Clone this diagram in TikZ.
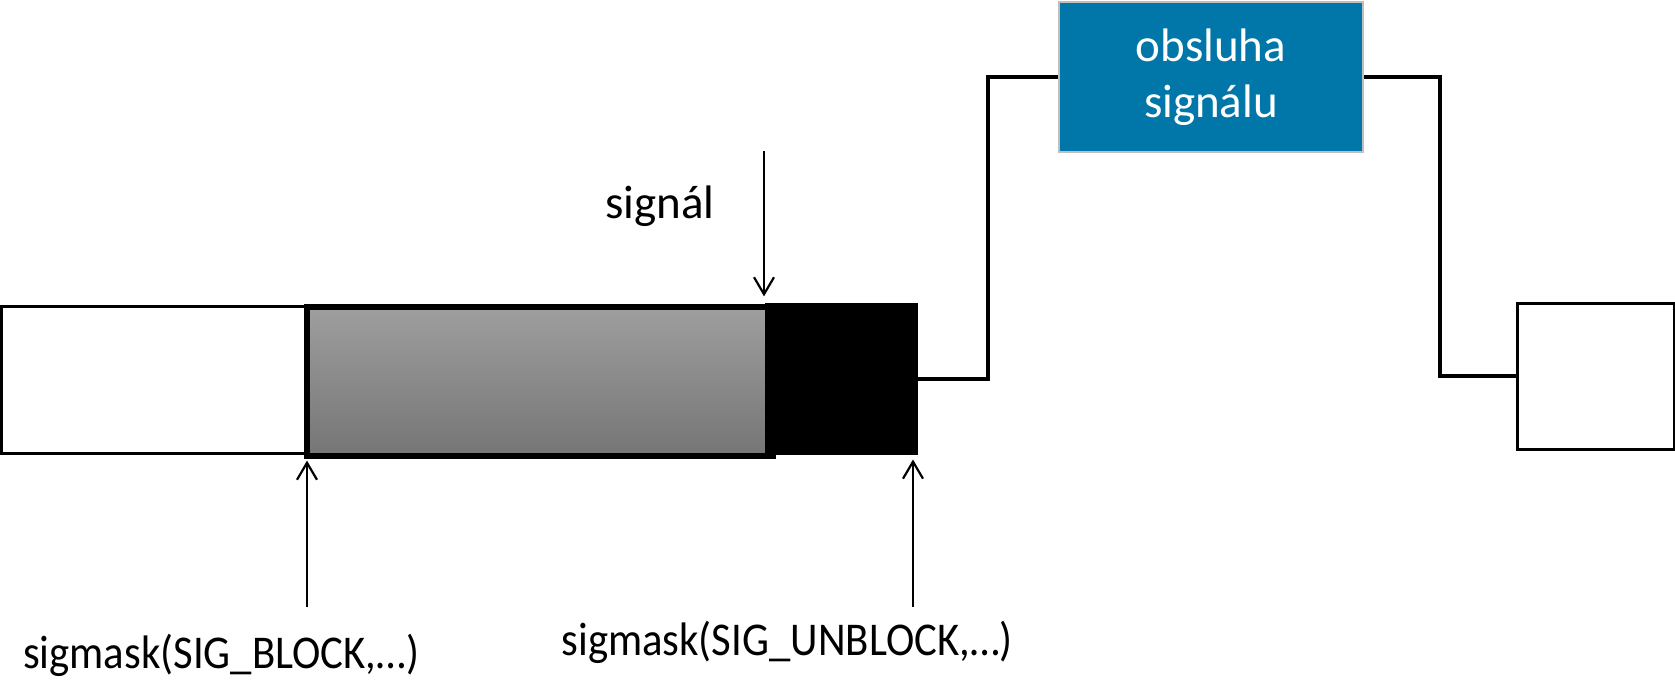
\documentclass[tikz,border=0pt]{standalone}
\usepackage{fontspec}
\setmainfont{Carlito}
\newfontfamily\callfont{Carlito}[FakeStretch=0.91]
\usetikzlibrary{positioning, calc, arrows.meta}
\newcommand{\labelfont}{\fontsize{23.5}{28}\selectfont}

\begin{document}
\begin{tikzpicture}[align=center, x=0.5pt, y=-0.5pt]
       \labelfont
       \tikzstyle{box} = [
            rectangle,
            draw=black,
            line width=1.5pt,
            fill=white,
            inner sep=0pt,
            minimum height=73.5pt
       ]
       \tikzstyle{maskbox} = [
            rectangle,
            draw=black,
            line width=2.6pt,
            top color=black!38,
            bottom color=black!54,
            inner sep=0pt
       ]
       \tikzstyle{handlerbox} = [
            rectangle,
            draw=black!25,
            line width=1pt,
            fill={rgb,255:red,0;green,119;blue,168},
            text=white,
            inner sep=0pt
       ]
       \tikzstyle{call} = [anchor=base, font=\callfont]
       \tikzstyle{link} = [line width=2pt]
       \tikzstyle{arrow} = [line width=1.1pt, -{Straight Barb[length=8.5pt, width=10pt]}]
       \useasboundingbox (0,0) rectangle (1675,684);

       \node (idle) at (154,379.5) [box, minimum width=153pt] {};
       \node (blocked) at (540,381.5) [maskbox, minimum width=233pt, minimum height=74.5pt] {};
       \node (pending) at (841,378.5) [box, fill=black, minimum width=75pt, minimum height=74.5pt] {};
       \node (handler) at (1211,77) [handlerbox, minimum width=152pt, minimum height=75pt] {obsluha\\signálu};
       \node (resumed) at (1595.5,376) [box, minimum width=78.5pt, minimum height=73pt] {};

       \coordinate (x1) at ($(pending.east)!0.5!(handler.west)$);
       \coordinate (x2) at ($(handler.east)!0.5!(resumed.west)$);
       \draw[link] (pending.east) -| (x1) |- (handler.west);
       \draw[link] (handler.east) -| (x2) |- (resumed.west);

       \coordinate (sigtop) at (764,151);
       \coordinate (blocktail) at (307,607);
       \coordinate (unblocktail) at (913,607);
       \draw[arrow, shorten >=4pt] (sigtop) -- (sigtop |- blocked.north);
       \draw[arrow, shorten >=1pt] (blocktail) -- (blocktail |- blocked.south);
       \draw[arrow, shorten >=2.5pt] (unblocktail) -- (unblocktail |- pending.south);

       \node (signal) at (660,219) [anchor=base] {signál};
       \node (blockcall) at (221,668) [call] {sigmask(SIG\_BLOCK,…)};
       \node (unblockcall) at (787,655) [call] {sigmask(SIG\_UNBLOCK,…)};
\end{tikzpicture}
\end{document}
